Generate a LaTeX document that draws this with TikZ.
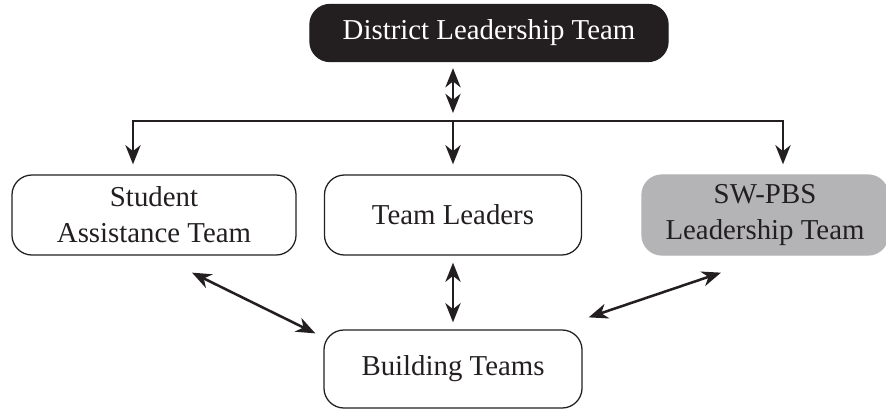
\documentclass[tikz,border=0pt]{standalone}
\usepackage{fontspec}
\setmainfont{Liberation Serif}
\usepackage{tikz}
\usetikzlibrary{positioning,arrows.meta,calc}
\definecolor{teamink}{HTML}{231F20}
\definecolor{teamgray}{HTML}{B4B4B6}
\tikzset{
    team/.style={rounded corners=0.5cm,draw=teamink,line width=0.9pt,fill=white,
        text=teamink,align=center,inner sep=2pt,minimum height=2cm,
        font=\fontsize{20.5}{25.5}\selectfont},
    lead/.style={team,draw=teamink,fill=teamink,text=white,minimum height=1.425cm},
    shade/.style={team,draw=teamgray,fill=teamgray},
    link/.style={draw=teamink,line width=1.8pt},
    down/.style={link,-{Stealth[length=4.8mm,width=3.8mm,inset=1.5mm]}},
    both/.style={link,{Stealth[length=4.8mm,width=3.8mm,inset=1.5mm]}-{Stealth[length=4.8mm,width=3.8mm,inset=1.5mm]}},
}

\begin{document}
\begin{tikzpicture}[x=0.025cm,y=-0.025cm]
    \useasboundingbox (0,0) rectangle (886,408);

    \node[lead,minimum width=8.95cm] (dlt) at (489,33) {District Leadership Team};
    \node[team,minimum width=7.1cm] (sat) at (154,215) {Student\\Assistance Team};
    \node[team,minimum width=6.425cm] (tl) at (453,215) {Team Leaders};
    \node[shade,minimum width=6.15cm] (sw) at (765,215) {SW-PBS\\Leadership Team};
    \node[team,minimum width=6.45cm,minimum height=1.95cm] (bt) at (453,369) {Building Teams};

    % distribution bar under the district team
    \coordinate (bus) at (453,121);
    \coordinate (busL) at (133,121);
    \coordinate (busR) at (783,121);
    \draw[link,line cap=rect] (busL) -- (busR);

    \draw[both,shorten <=0.15cm,shorten >=0.2cm] (bus |- dlt.south) -- (bus);
    \draw[down,line cap=rect] (busL) -- ($(busL |- sat.north)+(0,-10)$);
    \draw[down] (bus) -- ($(bus |- tl.north)+(0,-10)$);
    \draw[down,line cap=rect] (busR) -- ($(busR |- sw.north)+(0,-10)$);

    % links down to the building teams
    \draw[both,shorten <=0.175cm,shorten >=0.175cm] (tl.south) -- (bt.north);
    \draw[both] ([shift={(38,17)}]sat.south) -- ([shift={(-8,4)}]bt.north west);
    \draw[both] ([shift={(6,-12)}]bt.north east) -- ([shift={(-44,17)}]sw.south);
\end{tikzpicture}
\end{document}
